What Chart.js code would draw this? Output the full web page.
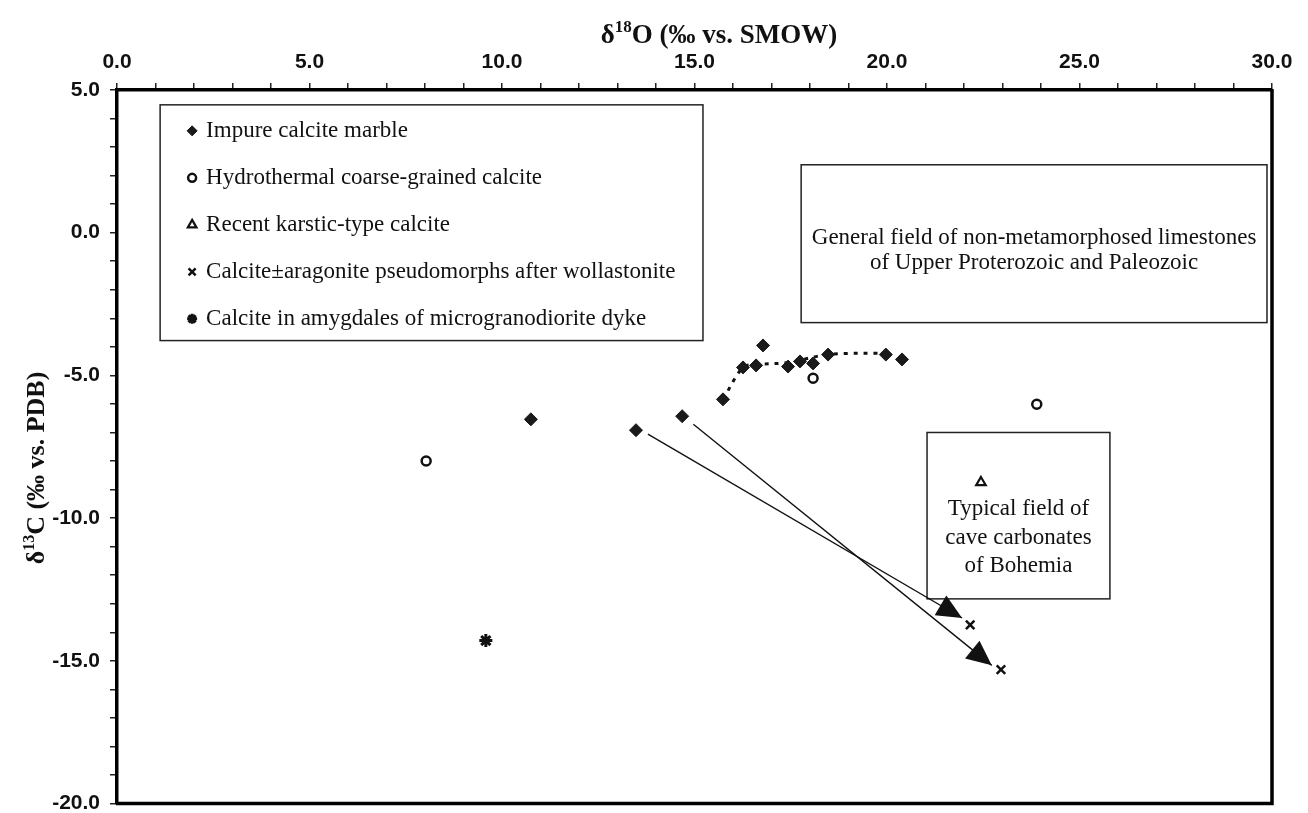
<!DOCTYPE html>
<html>
<head>
<meta charset="utf-8">
<script src="https://cdn.jsdelivr.net/npm/chart.js@4.4.0/dist/chart.umd.min.js"></script>
<style>
  html, body { margin: 0; padding: 0; background: #fff; }
  #wrap { width: 1308px; height: 813px; }
</style>
</head>
<body>
<div id="wrap"><canvas id="isoChart" width="1308" height="813"></canvas></div>
<script>
// ===========================
// DATA (d18O vs SMOW, d13C vs PDB)
// ===========================
const marbleX = [10.75, 13.48, 14.68, 15.74, 16.26, 16.60, 16.78, 17.43, 17.74, 18.08, 18.47, 19.97, 20.39];
const marbleY = [-6.54, -6.92, -6.43, -5.84, -4.72, -4.65, -3.95, -4.69, -4.51, -4.58, -4.27, -4.27, -4.44];

const hydroX = [8.03, 18.08, 23.89];
const hydroY = [-8.00, -5.10, -6.01];

const karstX = [22.44];
const karstY = [-8.75];

const pseudoX = [22.16, 22.96];
const pseudoY = [-13.74, -15.31];

const dykeX = [9.58];
const dykeY = [-14.29];

// dotted trend through the marble cluster
const trendX = [15.74, 16.26, 16.60, 17.43, 18.47, 19.97];
const trendY = [-5.84, -4.72, -4.62, -4.55, -4.27, -4.22];

// shift arrows marble -> pseudomorph
const arrow1X = [13.79, 21.95];
const arrow1Y = [-7.06, -13.50];
const arrow2X = [14.97, 22.72];
const arrow2Y = [-6.71, -15.16];

const xTicks = [0, 5, 10, 15, 20, 25, 30];
const yTicks = [5, 0, -5, -10, -15, -20];

const seriesLabels = [
    'Impure calcite marble',
    'Hydrothermal coarse-grained calcite',
    'Recent karstic-type calcite',
    'Calcite\u00B1aragonite pseudomorphs after wollastonite',
    'Calcite in amygdales of microgranodiorite dyke'
];

const fieldLabels = [
    ['General field of non-metamorphosed limestones', 'of Upper Proterozoic and Paleozoic'],
    ['Typical field of', 'cave carbonates', 'of Bohemia']
];

function toPoints(xs, ys) {
    return xs.map((x, i) => ({ x: x, y: ys[i] }));
}

const SERIF = '"Liberation Serif", "Times New Roman", serif';
const SANS = '"Liberation Sans", Arial, sans-serif';

// Boxes in data units (field outlines + legend frame)
const boxes = {
    legend: { x0: 1.12, x1: 15.22, y0: 4.48, y1: -3.78 },
    general: { x0: 17.77, x1: 29.87, y0: 2.38, y1: -3.15 },
    cave: { x0: 21.04, x1: 25.79, y0: -7.0, y1: -12.83 }
};

function boxPx(chart, b) {
    const xs = chart.scales.x, ys = chart.scales.y;
    return {
        left: xs.getPixelForValue(b.x0), right: xs.getPixelForValue(b.x1),
        top: ys.getPixelForValue(b.y0), bottom: ys.getPixelForValue(b.y1)
    };
}

function marker(ctx, style, r, bw, x, y, fill) {
    if (Chart.helpers && Chart.helpers.drawPoint) {
        ctx.save();
        ctx.strokeStyle = '#111';
        ctx.fillStyle = fill;
        ctx.lineWidth = bw;
        Chart.helpers.drawPoint(ctx, { pointStyle: style, radius: r, borderWidth: bw, rotation: 0 }, x, y);
        ctx.restore();
    }
}

function drawSup(ctx, cx, y, weight, size, a, sup, rest) {
    const big = weight + ' ' + size + 'px ' + SERIF;
    const small = weight + ' ' + Math.round(size * 0.63) + 'px ' + SERIF;
    ctx.font = big;
    const wa = ctx.measureText(a).width;
    const wr = ctx.measureText(rest).width;
    ctx.font = small;
    const ws = ctx.measureText(sup).width;
    let x = cx - (wa + ws + wr) / 2;
    ctx.textAlign = 'left';
    ctx.font = big;
    ctx.fillText(a, x, y);
    x += wa;
    ctx.font = small;
    ctx.fillText(sup, x, y - size * 0.4);
    x += ws;
    ctx.font = big;
    ctx.fillText(rest, x, y);
}

// Frame, field boxes, arrowheads, legend, axis titles
const decorPlugin = {
    id: 'decor',
    beforeDatasetsDraw(chart) {
        const ctx = chart.ctx;
        ctx.save();
        ctx.strokeStyle = '#222';
        ctx.lineWidth = 1.5;
        ['general', 'cave'].forEach(key => {
            const p = boxPx(chart, boxes[key]);
            ctx.strokeRect(p.left, p.top, p.right - p.left, p.bottom - p.top);
        });

        ctx.fillStyle = '#111';
        ctx.textAlign = 'center';
        ctx.textBaseline = 'middle';
        ctx.font = '23px ' + SERIF;
        const g = boxPx(chart, boxes.general);
        const gc = (g.left + g.right) / 2, gm = (g.top + g.bottom) / 2 + 7;
        ctx.fillText(fieldLabels[0][0], gc, gm - 12.5);
        ctx.fillText(fieldLabels[0][1], gc, gm + 12.5);

        const c = boxPx(chart, boxes.cave);
        const cc = (c.left + c.right) / 2, cm = (c.top + c.bottom) / 2 + 22;
        fieldLabels[1].forEach((t, i) => ctx.fillText(t, cc, cm + (i - 1) * 28.5));
        ctx.restore();
    },
    afterDatasetsDraw(chart) {
        const ctx = chart.ctx;
        const area = chart.chartArea;

        // arrowheads at end of arrow datasets
        chart.data.datasets.forEach((ds, i) => {
            if (!ds.isArrow) return;
            const pts = chart.getDatasetMeta(i).data;
            const a = pts[pts.length - 2], b = pts[pts.length - 1];
            const ang = Math.atan2(b.y - a.y, b.x - a.x);
            const len = 25, half = 11.5;
            ctx.save();
            ctx.translate(b.x, b.y);
            ctx.rotate(ang);
            ctx.beginPath();
            ctx.moveTo(0, 0);
            ctx.lineTo(-len, -half);
            ctx.lineTo(-len, half);
            ctx.closePath();
            ctx.fillStyle = '#111';
            ctx.fill();
            ctx.restore();
        });

        // right + bottom frame
        ctx.save();
        ctx.strokeStyle = '#000';
        ctx.lineWidth = 3.5;
        ctx.beginPath();
        ctx.moveTo(area.right, area.top - 1);
        ctx.lineTo(area.right, area.bottom);
        ctx.lineTo(area.left - 1, area.bottom);
        ctx.stroke();
        ctx.restore();

        // legend box
        const lp = boxPx(chart, boxes.legend);
        ctx.save();
        ctx.strokeStyle = '#222';
        ctx.lineWidth = 1.5;
        ctx.strokeRect(lp.left, lp.top, lp.right - lp.left, lp.bottom - lp.top);
        ctx.font = '23px ' + SERIF;
        ctx.textAlign = 'left';
        ctx.textBaseline = 'middle';
        ctx.fillStyle = '#111';
        const rowGap = 47;
        chart.data.datasets.forEach((ds, i) => {
            if (!ds.inLegend) return;
            const y = lp.top + 26 + i * rowGap;
            const mx = lp.left + 32;
            marker(ctx, ds.pointStyle, ds.legendRadius, ds.pointBorderWidth, mx, y,
                ds.pointBackgroundColor);
            ctx.fillStyle = '#111';
            ctx.fillText(ds.label, lp.left + 46, y);
        });
        ctx.restore();

        // axis titles with superscripts
        ctx.save();
        ctx.fillStyle = '#111';
        ctx.textBaseline = 'alphabetic';
        drawSup(ctx, 719, 43, 'bold', 27, '\u03B4', '18', 'O (\u2030 vs. SMOW)');
        ctx.translate(44, 468);
        ctx.rotate(-Math.PI / 2);
        drawSup(ctx, 0, 0, 'bold', 26, '\u03B4', '13', 'C (\u2030 vs. PDB)');
        ctx.restore();
    }
};

const tickFont = { family: SANS, size: 21, weight: 'bold' };

const ctx = document.getElementById('isoChart').getContext('2d');
new Chart(ctx, {
    type: 'scatter',
    data: {
        datasets: [
            {
                label: seriesLabels[0], data: toPoints(marbleX, marbleY), inLegend: true,
                pointStyle: 'rectRot', pointRadius: 6.5, legendRadius: 5,
                pointBackgroundColor: '#1a1a1a', pointBorderColor: '#1a1a1a', pointBorderWidth: 1, order: 1
            },
            {
                label: seriesLabels[1], data: toPoints(hydroX, hydroY), inLegend: true,
                pointStyle: 'circle', pointRadius: 4.5, legendRadius: 4,
                pointBackgroundColor: '#fff', pointBorderColor: '#111', pointBorderWidth: 2.5, order: 1
            },
            {
                label: seriesLabels[2], data: toPoints(karstX, karstY), inLegend: true,
                pointStyle: 'triangle', pointRadius: 5.5, legendRadius: 5,
                pointBackgroundColor: '#fff', pointBorderColor: '#111', pointBorderWidth: 2.2, order: 1
            },
            {
                label: seriesLabels[3], data: toPoints(pseudoX, pseudoY), inLegend: true,
                pointStyle: 'crossRot', pointRadius: 6, legendRadius: 5,
                pointBackgroundColor: '#111', pointBorderColor: '#111', pointBorderWidth: 2.5, order: 1
            },
            {
                label: seriesLabels[4], data: toPoints(dykeX, dykeY), inLegend: true,
                pointStyle: 'star', pointRadius: 6.5, legendRadius: 5,
                pointBackgroundColor: '#111', pointBorderColor: '#111', pointBorderWidth: 3, order: 1
            },
            {
                label: 'trend', data: toPoints(trendX, trendY), showLine: true,
                borderColor: '#111', borderWidth: 3, borderDash: [4, 6], tension: 0.35,
                pointRadius: 0, order: 2
            },
            {
                label: 'shift 1', data: toPoints(arrow1X, arrow1Y), showLine: true, isArrow: true,
                borderColor: '#111', borderWidth: 1.4, pointRadius: 0, order: 3
            },
            {
                label: 'shift 2', data: toPoints(arrow2X, arrow2Y), showLine: true, isArrow: true,
                borderColor: '#111', borderWidth: 1.4, pointRadius: 0, order: 3
            }
        ]
    },
    options: {
        responsive: false,
        animation: false,
        devicePixelRatio: 1,
        layout: { padding: { left: 0, top: 0, right: 36, bottom: 6 } },
        plugins: {
            legend: { display: false },
            tooltip: { enabled: false }
        },
        scales: {
            x: {
                type: 'linear', position: 'top', min: 0, max: 30,
                afterFit: (scale) => {
                    scale.height = 90;
                    scale.paddingLeft = 0; scale.paddingRight = 0;
                },
                ticks: {
                    stepSize: 1, autoSkip: false, maxRotation: 0, padding: 8,
                    color: '#111', font: tickFont,
                    callback: (v) => xTicks.includes(v) ? v.toFixed(1) : ''
                },
                grid: { drawOnChartArea: false, drawTicks: true, tickLength: 7, color: '#222', lineWidth: 1.5 },
                border: { display: true, color: '#000', width: 3.5 }
            },
            y: {
                type: 'linear', position: 'left', min: -20, max: 5,
                afterFit: (scale) => {
                    scale.width = 117;
                    scale.paddingTop = 0; scale.paddingBottom = 0;
                },
                ticks: {
                    stepSize: 1, autoSkip: false, padding: 10,
                    color: '#111', font: tickFont,
                    callback: (v) => yTicks.includes(v) ? v.toFixed(1) : ''
                },
                grid: { drawOnChartArea: false, drawTicks: true, tickLength: 7, color: '#222', lineWidth: 1.5 },
                border: { display: true, color: '#000', width: 3.5 }
            }
        }
    },
    plugins: [decorPlugin]
});
</script>
</body>
</html>
